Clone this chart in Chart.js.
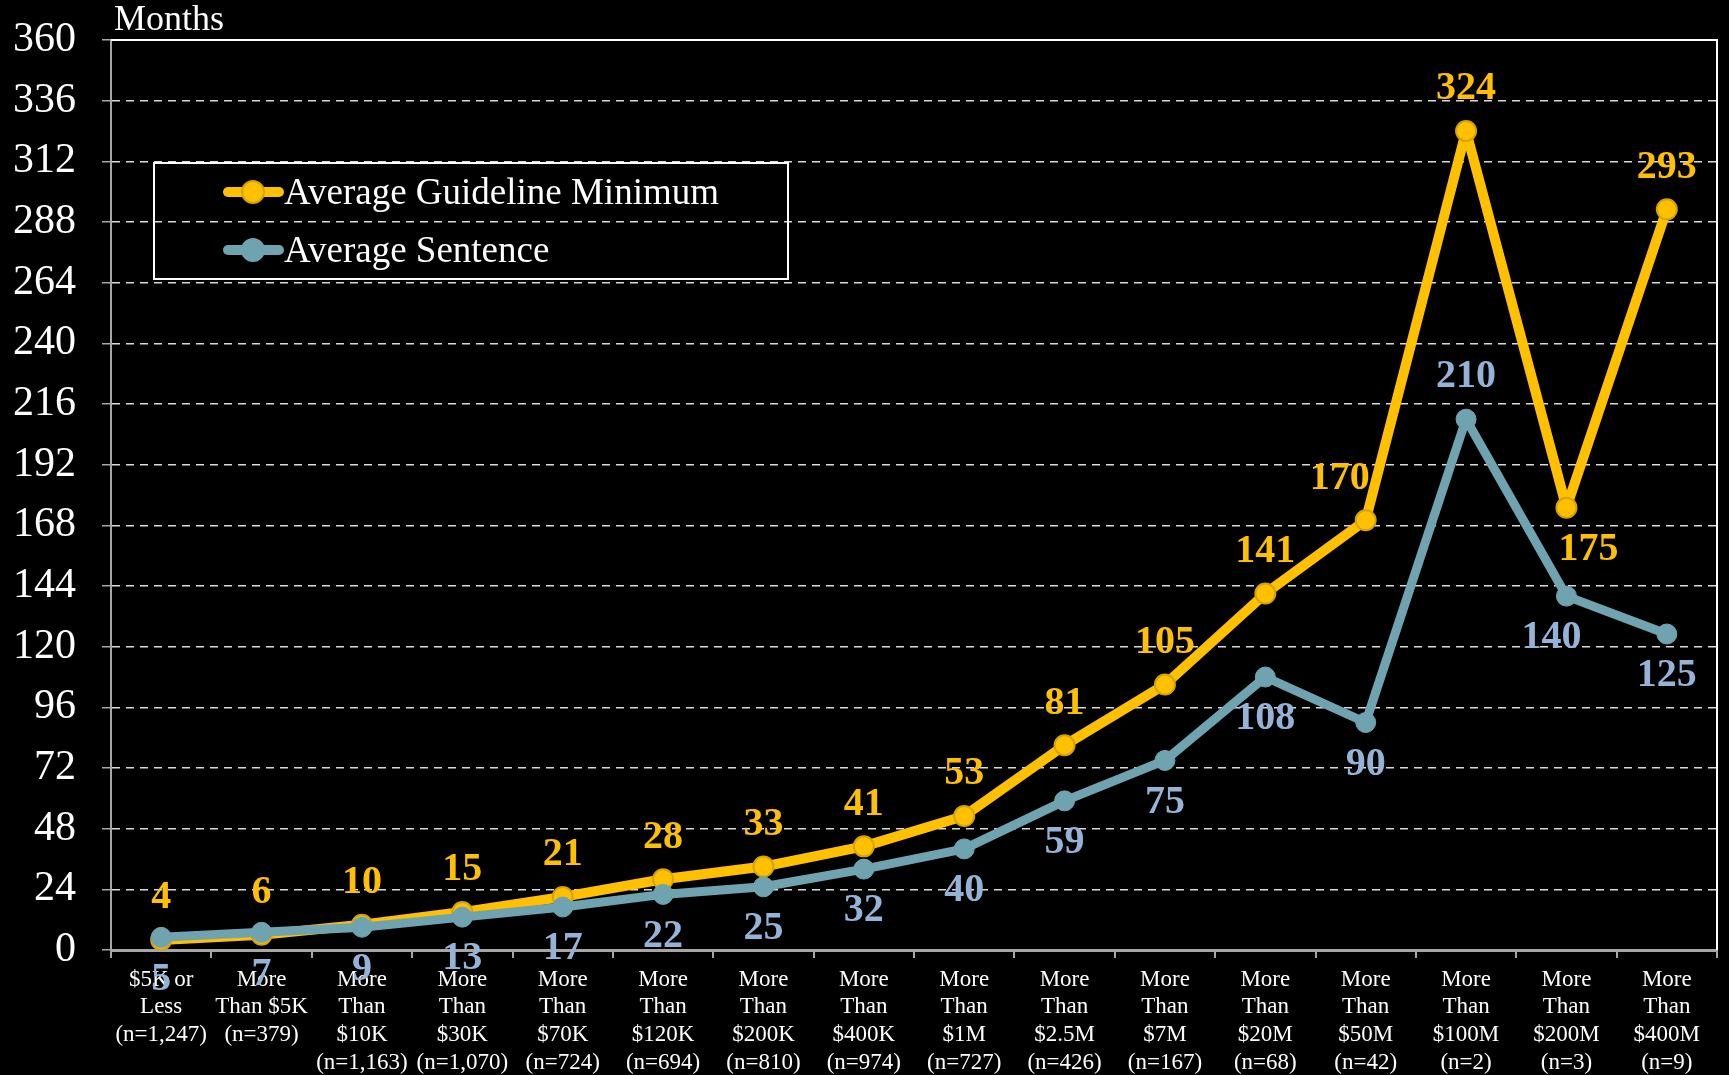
<!DOCTYPE html>
<html>
<head>
<meta charset="utf-8">
<script src="https://cdn.jsdelivr.net/npm/chart.js@4"></script>
<style>
  html, body { margin: 0; padding: 0; background: #000; }
  #wrap { width: 1729px; height: 1075px; }
</style>
</head>
<body>
<div id="wrap"><canvas id="lossChart" width="1729" height="1075"></canvas></div>
<script>
/* Average guideline minimum vs average sentence by loss amount */

const categories = [
  ['$5K or', 'Less', '(n=1,247)'],
  ['More', 'Than $5K', '(n=379)'],
  ['More', 'Than', '$10K', '(n=1,163)'],
  ['More', 'Than', '$30K', '(n=1,070)'],
  ['More', 'Than', '$70K', '(n=724)'],
  ['More', 'Than', '$120K', '(n=694)'],
  ['More', 'Than', '$200K', '(n=810)'],
  ['More', 'Than', '$400K', '(n=974)'],
  ['More', 'Than', '$1M', '(n=727)'],
  ['More', 'Than', '$2.5M', '(n=426)'],
  ['More', 'Than', '$7M', '(n=167)'],
  ['More', 'Than', '$20M', '(n=68)'],
  ['More', 'Than', '$50M', '(n=42)'],
  ['More', 'Than', '$100M', '(n=2)'],
  ['More', 'Than', '$200M', '(n=3)'],
  ['More', 'Than', '$400M', '(n=9)']
];

const guidelineMin = [4, 6, 10, 15, 21, 28, 33, 41, 53, 81, 105, 141, 170, 324, 175, 293];
const avgSentence  = [5, 7, 9, 13, 17, 22, 25, 32, 40, 59, 75, 108, 90, 210, 140, 125];

const yTicks = [0, 24, 48, 72, 96, 120, 144, 168, 192, 216, 240, 264, 288, 312, 336, 360];

// where each value label sits relative to its point (1 = above, -1 = below)
const gmLabelSide = [1, 1, 1, 1, 1, 1, 1, 1, 1, 1, 1, 1, 1, 1, -1, 1];
const asLabelSide = [-1, -1, -1, -1, -1, -1, -1, -1, -1, -1, -1, -1, -1, 1, -1, -1];
const gmLabelShift = [0, 0, 0, 0, 0, 0, 0, 0, 0, 0, 0, 0, -26, 0, 22, 0];
const asLabelShift = [0, 0, 0, 0, 0, 0, 0, 0, 0, 0, 0, 0, 0, 0, -15, 0];

const GOLD = '#FFC000';
const GOLD_EDGE = '#D6A400';
const TEAL = '#6FA3B0';
const TEAL_LABEL = '#95B3D7';
const FONT = '"Liberation Serif", "Times New Roman", serif';

// value labels
const valueLabels = {
  id: 'valueLabels',
  afterDatasetsDraw(chart) {
    const ctx = chart.ctx;
    ctx.save();
    ctx.font = 'bold 40px ' + FONT;
    ctx.textAlign = 'center';
    ctx.textBaseline = 'middle';
    const sets = [
      { idx: 1, data: guidelineMin, side: gmLabelSide, shift: gmLabelShift, color: GOLD },
      { idx: 0, data: avgSentence, side: asLabelSide, shift: asLabelShift, color: TEAL_LABEL }
    ];
    sets.forEach(s => {
      const meta = chart.getDatasetMeta(s.idx);
      meta.data.forEach((pt, i) => {
        ctx.fillStyle = s.color;
        ctx.fillText(String(s.data[i]), pt.x + s.shift[i], pt.y - s.side[i] * 42);
      });
    });
    ctx.restore();
  }
};

// frame, "Months" title and boxed legend
const frameAndLegend = {
  id: 'frameAndLegend',
  afterDraw(chart) {
    const ctx = chart.ctx;
    const a = chart.chartArea;
    ctx.save();
    ctx.strokeStyle = '#FFFFFF';
    ctx.lineWidth = 2;
    ctx.beginPath();
    ctx.moveTo(a.left, a.top);
    ctx.lineTo(a.right, a.top);
    ctx.lineTo(a.right, a.bottom);
    ctx.stroke();

    ctx.fillStyle = '#FFFFFF';
    ctx.font = '36px ' + FONT;
    ctx.textAlign = 'left';
    ctx.textBaseline = 'middle';
    ctx.fillText('Months', a.left + 3, 21);

    // legend box
    ctx.strokeStyle = '#FFFFFF';
    ctx.lineWidth = 2;
    ctx.strokeRect(154, 163, 634, 116);
    const rows = [
      { label: 'Average Guideline Minimum', color: GOLD, edge: GOLD_EDGE, y: 192 },
      { label: 'Average Sentence', color: TEAL, edge: TEAL, y: 250 }
    ];
    rows.forEach(r => {
      ctx.strokeStyle = r.color;
      ctx.lineWidth = 10;
      ctx.lineCap = 'round';
      ctx.beginPath();
      ctx.moveTo(228, r.y);
      ctx.lineTo(279, r.y);
      ctx.stroke();
      ctx.beginPath();
      ctx.arc(253, r.y, 11, 0, Math.PI * 2);
      ctx.fillStyle = r.color;
      ctx.fill();
      ctx.lineWidth = 2;
      ctx.strokeStyle = r.edge;
      ctx.stroke();
      ctx.fillStyle = '#FFFFFF';
      ctx.font = '37px ' + FONT;
      ctx.fillText(r.label, 284, r.y + 2);
    });
    ctx.restore();
  }
};

const ctx = document.getElementById('lossChart');
new Chart(ctx, {
  type: 'line',
  data: {
    labels: categories,
    datasets: [
      {
        label: 'Average Sentence',
        data: avgSentence,
        borderColor: TEAL,
        backgroundColor: TEAL,
        pointBackgroundColor: TEAL,
        pointBorderColor: TEAL,
        borderWidth: 9,
        borderJoinStyle: 'round',
        pointRadius: 10,
        pointBorderWidth: 1,
        tension: 0
      },
      {
        label: 'Average Guideline Minimum',
        data: guidelineMin,
        borderColor: GOLD,
        backgroundColor: GOLD,
        pointBackgroundColor: GOLD,
        pointBorderColor: GOLD_EDGE,
        borderWidth: 10,
        borderJoinStyle: 'round',
        pointRadius: 10,
        pointBorderWidth: 2,
        tension: 0
      }
    ]
  },
  options: {
    responsive: false,
    animation: false,
    layout: { padding: { top: 40, right: 11, left: 0, bottom: 0 } },
    plugins: {
      legend: { display: false },
      tooltip: { enabled: false }
    },
    scales: {
      x: {
        offset: true,
        grid: {
          offset: true,
          drawOnChartArea: false,
          drawTicks: true,
          tickLength: 8,
          tickColor: '#A6A6A6',
          lineWidth: 2
        },
        border: { color: '#A6A6A6', width: 3 },
        ticks: {
          color: '#FFFFFF',
          font: { family: FONT, size: 23, lineHeight: 1.2 },
          autoSkip: false,
          maxRotation: 0,
          minRotation: 0,
          padding: 8
        },
        afterFit(scale) { scale.height = 125; }
      },
      y: {
        min: 0,
        max: 360,
        afterBuildTicks(scale) { scale.ticks = yTicks.map(v => ({ value: v })); },
        grid: {
          color: '#D9D9D9',
          lineWidth: 1.5,
          tickColor: '#A6A6A6',
          tickLength: 9
        },
        border: { color: '#A6A6A6', width: 2, dash: [8, 6] },
        ticks: {
          color: '#FFFFFF',
          font: { family: FONT, size: 42 },
          padding: 26
        },
        afterFit(scale) {
          scale.width = 111;
          scale.paddingTop = 0;
          scale.paddingBottom = 0;
        }
      }
    }
  },
  plugins: [valueLabels, frameAndLegend]
});
</script>
</body>
</html>
